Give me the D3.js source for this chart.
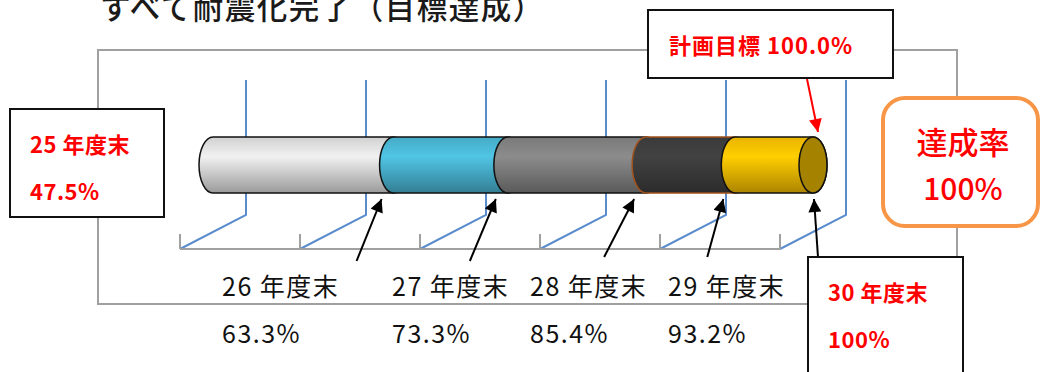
<!DOCTYPE html>
<html>
<head>
<meta charset="utf-8">
<script src="https://cdn.jsdelivr.net/npm/d3@7"></script>
<style>
    body { margin: 0; background: #fff; }
    svg { display: block; font-family: "Noto Sans CJK JP", sans-serif; }
</style>
</head>
<body>
<div id="chart"></div>
<script>
// chart data
const years = ["25 年度末", "26 年度末", "27 年度末", "28 年度末", "29 年度末", "30 年度末"];
const rates = [47.5, 63.3, 73.3, 85.4, 93.2, 100];
const segColors = ["#e4e4e4", "#4cbbd9", "#858585", "#3f3f3f", "#ffc400"];
const gridTicks = [47.5, 58, 68.5, 79, 89.5, 100];
const targetRate = 100.0;
const achievedRate = 100;
const title = "すべて耐震化完了（目標達成）";

// layout
const W = 1041, H = 372;
const floorY = 249, wallTop = 80;
const depth = { dx: 66, dy: -34 };
const cyl = { cy: 165, ry: 28, rx: 14 };
const labelX = [222, 392, 530, 668];
const arrowTail = [[-25, 62], [-26, 62], [-30, 58], [-16, 58], [4, 58]];

const svg = d3.select("#chart").append("svg")
    .attr("width", W)
    .attr("height", H);

const x = d3.scaleLinear()
    .domain([rates[0], rates[rates.length - 1]])
    .range([180, 780]);

// cylinder sits half way into the depth
const xMid = v => x(v) + depth.dx / 2;

// gradients for the cylinder pieces
const defs = svg.append("defs");
segColors.forEach((c, i) => {
    let g = defs.append("linearGradient")
        .attr("id", "grad" + i)
        .attr("x1", 0).attr("y1", 0).attr("x2", 0).attr("y2", 1);
    g.append("stop").attr("offset", "0%").attr("stop-color", d3.color(c).darker(0.25));
    g.append("stop").attr("offset", "35%").attr("stop-color", d3.color(c).brighter(0.15));
    g.append("stop").attr("offset", "100%").attr("stop-color", d3.color(c).darker(1.1));
});
let mk = defs.append("marker")
    .attr("id", "headBlack")
    .attr("viewBox", "0 0 10 10")
    .attr("refX", 10).attr("refY", 5)
    .attr("markerWidth", 14).attr("markerHeight", 13)
    .attr("markerUnits", "userSpaceOnUse")
    .attr("orient", "auto");
mk.append("path").attr("d", "M0,0 L10,5 L0,10 Z").attr("fill", "#000");
let mkr = defs.append("marker")
    .attr("id", "headRed")
    .attr("viewBox", "0 0 10 10")
    .attr("refX", 10).attr("refY", 5)
    .attr("markerWidth", 14).attr("markerHeight", 13)
    .attr("markerUnits", "userSpaceOnUse")
    .attr("orient", "auto");
mkr.append("path").attr("d", "M0,0 L10,5 L0,10 Z").attr("fill", "#ff0000");

// title (partly above the page, as in the source)
svg.append("text")
    .attr("x", 100)
    .attr("y", 19)
    .attr("font-size", 30.5)
    .attr("font-weight", 500)
    .attr("letter-spacing", 1.5)
    .attr("fill", "#1a1a1a")
    .text(title);

// outer chart frame
svg.append("rect")
    .attr("x", 98).attr("y", 50)
    .attr("width", 859).attr("height", 254)
    .attr("fill", "none")
    .attr("stroke", "#a0a0a0")
    .attr("stroke-width", 2);

// back wall gridlines + floor depth lines
const grid = svg.append("g");
grid.selectAll(".wall")
    .data(gridTicks)
    .enter().append("polyline")
    .attr("class", "wall")
    .attr("points", d => [
        [x(d), floorY],
        [x(d) + depth.dx, floorY + depth.dy],
        [x(d) + depth.dx, wallTop]
    ].join(" "))
    .attr("fill", "none")
    .attr("stroke", "#5a8ccc")
    .attr("stroke-width", 2);

// front floor edge and ticks
grid.append("line")
    .attr("x1", x(gridTicks[0])).attr("x2", x(gridTicks[gridTicks.length - 1]))
    .attr("y1", floorY).attr("y2", floorY)
    .attr("stroke", "#a0a0a0")
    .attr("stroke-width", 2);
grid.selectAll(".tick")
    .data(gridTicks)
    .enter().append("line")
    .attr("class", "tick")
    .attr("x1", d => x(d)).attr("x2", d => x(d))
    .attr("y1", floorY - 15).attr("y2", floorY)
    .attr("stroke", "#a0a0a0")
    .attr("stroke-width", 2);

// cylinder pieces, one for each year-to-year step
const cylTop = cyl.cy - cyl.ry, cylBot = cyl.cy + cyl.ry;
function segPath(x0, x1) {
    return "M" + x0 + "," + cylTop + " L" + x1 + "," + cylTop +
        " A" + cyl.rx + "," + cyl.ry + " 0 0 1 " + x1 + "," + cylBot +
        " L" + x0 + "," + cylBot +
        " A" + cyl.rx + "," + cyl.ry + " 0 0 1 " + x0 + "," + cylTop + " Z";
}
const segs = rates.slice(1).map((r, i) => ({ from: rates[i], to: r, i: i }));

svg.append("g").selectAll(".seg")
    .data(segs)
    .enter().append("path")
    .attr("class", "seg")
    .attr("d", d => segPath(xMid(d.from), xMid(d.to)))
    .attr("fill", d => "url(#grad" + d.i + ")")
    .attr("stroke", d => d.i === 3 ? "#a0521d" : "#111")
    .attr("stroke-width", 1.5);

// end cap
svg.append("ellipse")
    .attr("cx", xMid(rates[rates.length - 1]))
    .attr("cy", cyl.cy)
    .attr("rx", cyl.rx).attr("ry", cyl.ry)
    .attr("fill", "#a58200")
    .attr("stroke", "#111")
    .attr("stroke-width", 1.5);

// black arrows from labels to each step
const tipX = (d, i) => i === 4 ? xMid(d) + 1 : xMid(d) - 12;
svg.append("g").selectAll(".arrow")
    .data(rates.slice(1))
    .enter().append("line")
    .attr("class", "arrow")
    .attr("x1", (d, i) => tipX(d, i) + arrowTail[i][0])
    .attr("y1", (d, i) => cylBot + 6 + arrowTail[i][1])
    .attr("x2", (d, i) => tipX(d, i))
    .attr("y2", cylBot + 6)
    .attr("stroke", "#000")
    .attr("stroke-width", 2)
    .attr("marker-end", "url(#headBlack)");

// red arrow from the target box
svg.append("line")
    .attr("x1", 807).attr("y1", 79)
    .attr("x2", xMid(targetRate) + 5).attr("y2", cylTop - 5)
    .attr("stroke", "#ff0000")
    .attr("stroke-width", 2)
    .attr("marker-end", "url(#headRed)");

// labels under the chart
const lab = svg.append("g")
    .attr("font-size", 25)
    .attr("letter-spacing", 1.5)
    .attr("fill", "#111");
lab.selectAll(".yr")
    .data(years.slice(1, 5))
    .enter().append("text")
    .attr("x", (d, i) => labelX[i])
    .attr("y", 296)
    .text(d => d);
lab.selectAll(".pct")
    .data(rates.slice(1, 5))
    .enter().append("text")
    .attr("x", (d, i) => labelX[i])
    .attr("y", 343)
    .text(d => d.toFixed(1) + "%");

// boxed red labels
function redBox(bx, by, bw, bh, lines, size, tx, ty, gap, ls) {
    svg.append("rect")
        .attr("x", bx).attr("y", by)
        .attr("width", bw).attr("height", bh)
        .attr("fill", "#fff")
        .attr("stroke", "#111")
        .attr("stroke-width", 2);
    lines.forEach((t, i) => {
        svg.append("text")
            .attr("x", tx).attr("y", ty + i * gap)
            .attr("font-size", size)
            .attr("font-weight", "bold")
            .attr("letter-spacing", ls)
            .attr("fill", "#ff0000")
            .text(t);
    });
}
redBox(10, 109, 154, 108, [years[0], rates[0].toFixed(1) + "%"], 22, 30, 153, 47, 0.5);
redBox(648, 10, 245, 68, ["計画目標 " + targetRate.toFixed(1) + "%"], 22, 669, 54, 0, 1);
redBox(808, 257, 155, 130, [years[5], rates[5] + "%"], 22, 828, 301, 47, 0.5);

// achievement badge
svg.append("rect")
    .attr("x", 883).attr("y", 98)
    .attr("width", 155).attr("height", 128)
    .attr("rx", 22)
    .attr("fill", "#fff")
    .attr("stroke", "#f79646")
    .attr("stroke-width", 4);
svg.append("text")
    .attr("x", 963).attr("y", 154)
    .attr("text-anchor", "middle")
    .attr("font-size", 31)
    .attr("font-weight", 500)
    .attr("fill", "#ff0000")
    .text("達成率");
svg.append("text")
    .attr("x", 963).attr("y", 200)
    .attr("text-anchor", "middle")
    .attr("font-size", 30)
    .attr("font-weight", 500)
    .attr("fill", "#ff0000")
    .text(achievedRate + "%");
</script>
</body>
</html>
